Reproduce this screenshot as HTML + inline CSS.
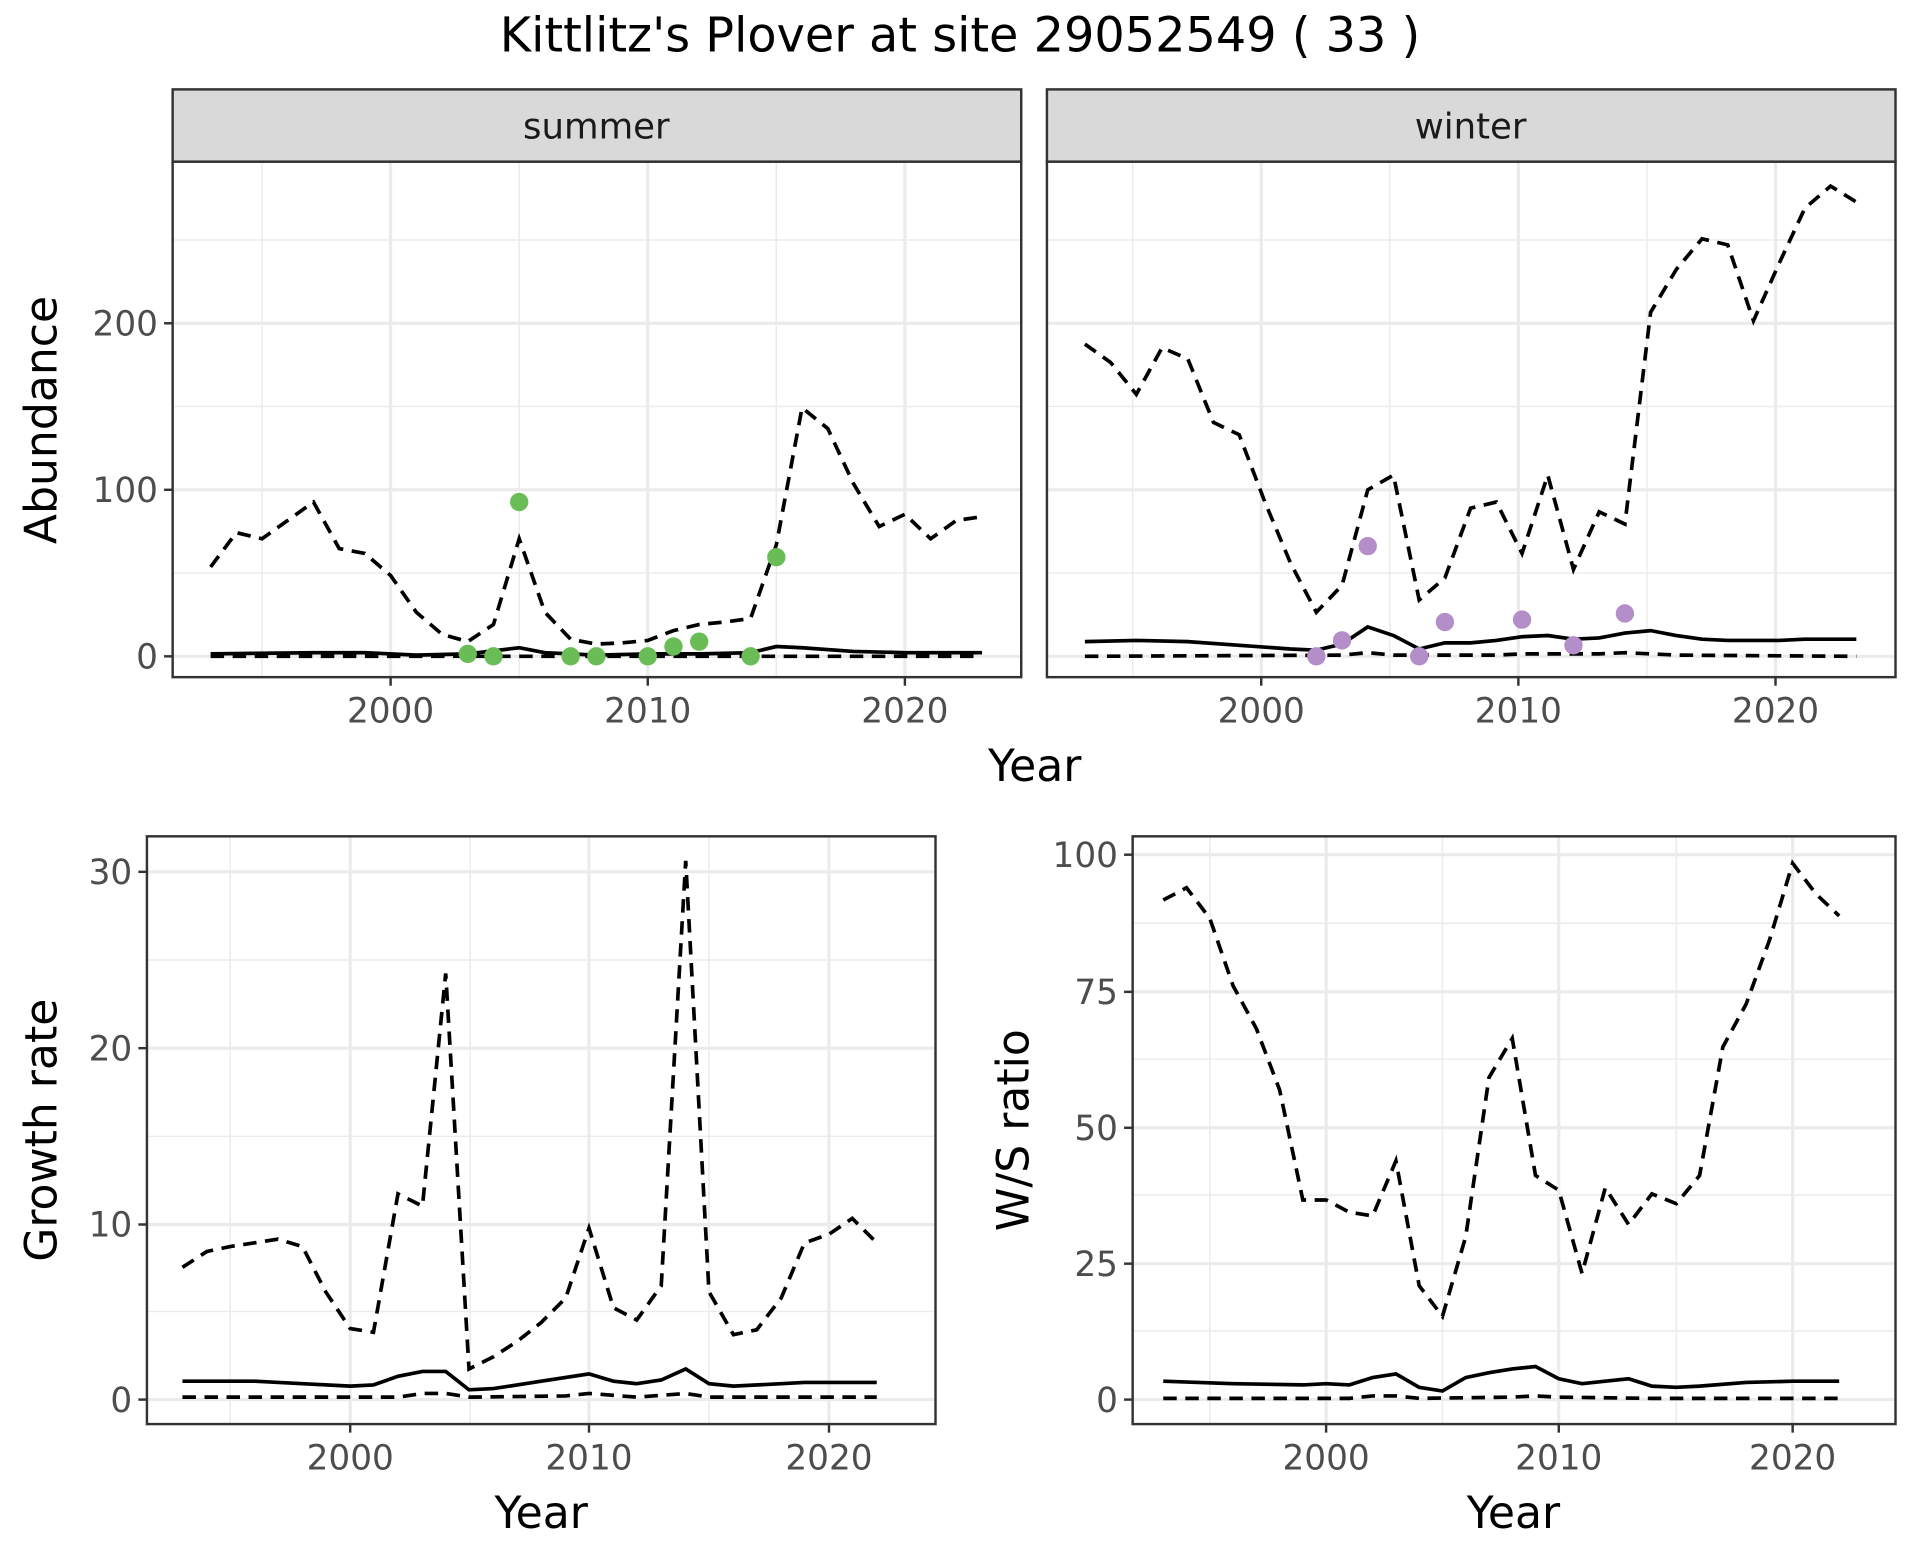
<!DOCTYPE html>
<html><head><meta charset="utf-8"><style>html,body{margin:0;padding:0;background:#fff}svg{display:block}text{font-family:"DejaVu Sans","Liberation Sans",sans-serif}</style></head>
<body>
<svg width="1920" height="1560" viewBox="0 0 1568 1274" xmlns="http://www.w3.org/2000/svg">
<rect width="1568" height="1274" fill="#fff"/>
<text x="784" y="42" font-size="39" text-anchor="middle" fill="#000">Kittlitz's Plover at site 29052549 ( 33 )</text>

<g>
<g stroke="#ebebeb" stroke-width="1.2">
<line x1="214" y1="132" x2="214" y2="553"/><line x1="424" y1="132" x2="424" y2="553"/><line x1="634" y1="132" x2="634" y2="553"/>
<line x1="141" y1="468" x2="834" y2="468"/><line x1="141" y1="332" x2="834" y2="332"/><line x1="141" y1="196" x2="834" y2="196"/>
</g>
<g stroke="#ebebeb" stroke-width="2.6">
<line x1="319" y1="132" x2="319" y2="553"/><line x1="529" y1="132" x2="529" y2="553"/><line x1="739" y1="132" x2="739" y2="553"/>
<line x1="141" y1="536" x2="834" y2="536"/><line x1="141" y1="400" x2="834" y2="400"/><line x1="141" y1="264" x2="834" y2="264"/>
</g>
<polyline fill="none" stroke="#000" stroke-width="3" stroke-dasharray="11,7" points="172,463 193,435 214,440 235,425 256,410 277,448 298,452 319,470 340,500 361,518 382,524 403,510 424,440 445,500 466,522 487,526 508,525 529,523 550,515 571,510 592,508 613,505 634,445 655,333 676,350 697,395 718,430 739,420 760,440 781,425 802,422"/>
<polyline fill="none" stroke="#000" stroke-width="3" points="172,534 256,533 298,533 340,535 382,534 424,529 445,533 487,535 529,534 571,534 613,533 634,528 655,529 697,532 739,533 802,533"/>
<polyline fill="none" stroke="#000" stroke-width="3" stroke-dasharray="11,7" points="172,536 802,536"/>
<g fill="#6abd56"><circle cx="382" cy="534" r="7.5"/><circle cx="403" cy="536" r="7.5"/><circle cx="424" cy="410" r="7.5"/><circle cx="466" cy="536" r="7.5"/><circle cx="487" cy="536" r="7.5"/><circle cx="529" cy="536" r="7.5"/><circle cx="550" cy="528" r="7.5"/><circle cx="571" cy="524" r="7.5"/><circle cx="613" cy="536" r="7.5"/><circle cx="634" cy="455" r="7.5"/></g>
<rect x="141" y="132" width="693" height="421" fill="none" stroke="#333" stroke-width="2"/>
<rect x="141" y="73" width="693" height="59" fill="#d9d9d9" stroke="#333" stroke-width="2"/>
<text x="487" y="113" font-size="29" text-anchor="middle" fill="#1a1a1a">summer</text>
</g>

<g>
<g stroke="#ebebeb" stroke-width="1.2">
<line x1="925" y1="132" x2="925" y2="553"/><line x1="1135" y1="132" x2="1135" y2="553"/><line x1="1345" y1="132" x2="1345" y2="553"/>
<line x1="855" y1="468" x2="1548" y2="468"/><line x1="855" y1="332" x2="1548" y2="332"/><line x1="855" y1="196" x2="1548" y2="196"/>
</g>
<g stroke="#ebebeb" stroke-width="2.6">
<line x1="1030" y1="132" x2="1030" y2="553"/><line x1="1240" y1="132" x2="1240" y2="553"/><line x1="1450" y1="132" x2="1450" y2="553"/>
<line x1="855" y1="536" x2="1548" y2="536"/><line x1="855" y1="400" x2="1548" y2="400"/><line x1="855" y1="264" x2="1548" y2="264"/>
</g>
<polyline fill="none" stroke="#000" stroke-width="3" stroke-dasharray="11,7" points="886,281 907,296 928,322 949,284 970,293 991,345 1012,355 1033,410 1054,460 1075,500 1096,478 1117,400 1138,388 1159,490 1180,472 1201,415 1222,410 1243,452 1264,388 1285,465 1306,418 1327,428 1348,255 1369,220 1390,195 1411,200 1432,262 1453,215 1474,170 1495,152 1516,165"/>
<polyline fill="none" stroke="#000" stroke-width="3" points="886,524 928,523 970,524 1012,527 1054,530 1075,531 1096,526 1117,512 1138,519 1159,530 1180,525 1201,525 1222,523 1243,520 1264,519 1285,522 1306,521 1327,517 1348,515 1369,519 1390,522 1411,523 1432,523 1453,523 1474,522 1516,522"/>
<polyline fill="none" stroke="#000" stroke-width="3" stroke-dasharray="11,7" points="886,536 1096,535 1117,533 1138,535 1222,535 1243,534 1306,534 1327,533 1348,534 1369,535 1516,536"/>
<g fill="#b48ec8"><circle cx="1075" cy="536" r="7.5"/><circle cx="1096" cy="523" r="7.5"/><circle cx="1117" cy="446" r="7.5"/><circle cx="1159" cy="536" r="7.5"/><circle cx="1180" cy="508" r="7.5"/><circle cx="1243" cy="506" r="7.5"/><circle cx="1285" cy="527" r="7.5"/><circle cx="1327" cy="501" r="7.5"/></g>
<rect x="855" y="132" width="693" height="421" fill="none" stroke="#333" stroke-width="2"/>
<rect x="855" y="73" width="693" height="59" fill="#d9d9d9" stroke="#333" stroke-width="2"/>
<text x="1201" y="113" font-size="29" text-anchor="middle" fill="#1a1a1a">winter</text>
</g>

<g stroke="#333" stroke-width="2">
<line x1="134" y1="536" x2="141" y2="536"/><line x1="134" y1="400" x2="141" y2="400"/><line x1="134" y1="264" x2="141" y2="264"/>
<line x1="319" y1="553" x2="319" y2="560"/><line x1="529" y1="553" x2="529" y2="560"/><line x1="739" y1="553" x2="739" y2="560"/>
<line x1="1030" y1="553" x2="1030" y2="560"/><line x1="1240" y1="553" x2="1240" y2="560"/><line x1="1450" y1="553" x2="1450" y2="560"/>
</g>
<g font-size="28" fill="#4d4d4d">
<text x="129" y="546" text-anchor="end">0</text><text x="129" y="410" text-anchor="end">100</text><text x="129" y="274" text-anchor="end">200</text>
<text x="319" y="590" text-anchor="middle">2000</text><text x="529" y="590" text-anchor="middle">2010</text><text x="739" y="590" text-anchor="middle">2020</text>
<text x="1030" y="590" text-anchor="middle">2000</text><text x="1240" y="590" text-anchor="middle">2010</text><text x="1450" y="590" text-anchor="middle">2020</text>
</g>
<text x="845" y="638" font-size="36" text-anchor="middle">Year</text>
<text transform="translate(46,343) rotate(-90)" font-size="36" text-anchor="middle">Abundance</text>

<g>
<g stroke="#ebebeb" stroke-width="1.2">
<line x1="188" y1="683" x2="188" y2="1163"/><line x1="384" y1="683" x2="384" y2="1163"/><line x1="579" y1="683" x2="579" y2="1163"/>
<line x1="120" y1="1071" x2="764" y2="1071"/><line x1="120" y1="928" x2="764" y2="928"/><line x1="120" y1="784" x2="764" y2="784"/>
</g>
<g stroke="#ebebeb" stroke-width="2.6">
<line x1="286" y1="683" x2="286" y2="1163"/><line x1="481" y1="683" x2="481" y2="1163"/><line x1="677" y1="683" x2="677" y2="1163"/>
<line x1="120" y1="1143" x2="764" y2="1143"/><line x1="120" y1="1000" x2="764" y2="1000"/><line x1="120" y1="856" x2="764" y2="856"/><line x1="120" y1="712" x2="764" y2="712"/>
</g>
<polyline fill="none" stroke="#000" stroke-width="3" stroke-dasharray="11,7" points="149,1035 169,1022 188,1018 208,1015 227,1012 247,1018 266,1055 286,1085 305,1088 325,975 345,985 364,795 383,1118 403,1108 423,1095 442,1080 462,1060 481,1003 501,1068 520,1078 540,1050 560,703 579,1055 599,1090 618,1086 638,1060 657,1015 677,1008 696,995 716,1015"/>
<polyline fill="none" stroke="#000" stroke-width="3" points="149,1128 208,1128 247,1130 286,1132 305,1131 325,1124 345,1120 364,1120 383,1135 403,1134 442,1128 481,1122 501,1128 520,1130 540,1127 560,1118 579,1130 599,1132 638,1130 657,1129 716,1129"/>
<polyline fill="none" stroke="#000" stroke-width="3" stroke-dasharray="11,7" points="149,1141 325,1141 345,1138 364,1138 383,1141 462,1140 481,1138 520,1141 560,1138 579,1141 716,1141"/>
<rect x="120" y="683" width="644" height="480" fill="none" stroke="#333" stroke-width="2"/>
<g stroke="#333" stroke-width="2">
<line x1="113" y1="1143" x2="120" y2="1143"/><line x1="113" y1="1000" x2="120" y2="1000"/><line x1="113" y1="856" x2="120" y2="856"/><line x1="113" y1="712" x2="120" y2="712"/>
<line x1="286" y1="1163" x2="286" y2="1170"/><line x1="481" y1="1163" x2="481" y2="1170"/><line x1="677" y1="1163" x2="677" y2="1170"/>
</g>
<g font-size="28" fill="#4d4d4d">
<text x="108" y="1153" text-anchor="end">0</text><text x="108" y="1010" text-anchor="end">10</text><text x="108" y="866" text-anchor="end">20</text><text x="108" y="722" text-anchor="end">30</text>
<text x="286" y="1200" text-anchor="middle">2000</text><text x="481" y="1200" text-anchor="middle">2010</text><text x="677" y="1200" text-anchor="middle">2020</text>
</g>
<text x="442" y="1248" font-size="36" text-anchor="middle">Year</text>
<text transform="translate(46,923) rotate(-90)" font-size="36" text-anchor="middle">Growth rate</text>
</g>

<g>
<g stroke="#ebebeb" stroke-width="1.2">
<line x1="988" y1="683" x2="988" y2="1163"/><line x1="1178" y1="683" x2="1178" y2="1163"/><line x1="1369" y1="683" x2="1369" y2="1163"/>
<line x1="925" y1="1087" x2="1548" y2="1087"/><line x1="925" y1="976" x2="1548" y2="976"/><line x1="925" y1="865" x2="1548" y2="865"/><line x1="925" y1="754" x2="1548" y2="754"/>
</g>
<g stroke="#ebebeb" stroke-width="2.6">
<line x1="1083" y1="683" x2="1083" y2="1163"/><line x1="1273" y1="683" x2="1273" y2="1163"/><line x1="1464" y1="683" x2="1464" y2="1163"/>
<line x1="925" y1="1143" x2="1548" y2="1143"/><line x1="925" y1="1032" x2="1548" y2="1032"/><line x1="925" y1="921" x2="1548" y2="921"/><line x1="925" y1="810" x2="1548" y2="810"/><line x1="925" y1="698" x2="1548" y2="698"/>
</g>
<polyline fill="none" stroke="#000" stroke-width="3" stroke-dasharray="11,7" points="950,735 969,725 988,750 1007,805 1026,840 1045,890 1064,980 1083,980 1102,990 1121,993 1140,948 1159,1050 1178,1075 1197,1010 1216,880 1235,848 1254,960 1273,972 1292,1040 1311,970 1330,1000 1349,975 1369,983 1388,960 1407,855 1426,820 1445,768 1464,705 1483,730 1502,748"/>
<polyline fill="none" stroke="#000" stroke-width="3" points="950,1128 1007,1130 1064,1131 1083,1130 1102,1131 1121,1125 1140,1122 1159,1133 1178,1136 1197,1125 1216,1121 1235,1118 1254,1116 1273,1126 1292,1130 1311,1128 1330,1126 1349,1132 1369,1133 1388,1132 1426,1129 1464,1128 1502,1128"/>
<polyline fill="none" stroke="#000" stroke-width="3" stroke-dasharray="11,7" points="950,1142 1102,1142 1121,1140 1140,1140 1159,1142 1235,1141 1254,1140 1273,1141 1349,1142 1502,1142"/>
<rect x="925" y="683" width="623" height="480" fill="none" stroke="#333" stroke-width="2"/>
<g stroke="#333" stroke-width="2">
<line x1="918" y1="1143" x2="925" y2="1143"/><line x1="918" y1="1032" x2="925" y2="1032"/><line x1="918" y1="921" x2="925" y2="921"/><line x1="918" y1="810" x2="925" y2="810"/><line x1="918" y1="698" x2="925" y2="698"/>
<line x1="1083" y1="1163" x2="1083" y2="1170"/><line x1="1273" y1="1163" x2="1273" y2="1170"/><line x1="1464" y1="1163" x2="1464" y2="1170"/>
</g>
<g font-size="28" fill="#4d4d4d">
<text x="913" y="1153" text-anchor="end">0</text><text x="913" y="1042" text-anchor="end">25</text><text x="913" y="931" text-anchor="end">50</text><text x="913" y="820" text-anchor="end">75</text><text x="913" y="708" text-anchor="end">100</text>
<text x="1083" y="1200" text-anchor="middle">2000</text><text x="1273" y="1200" text-anchor="middle">2010</text><text x="1464" y="1200" text-anchor="middle">2020</text>
</g>
<text x="1236" y="1248" font-size="36" text-anchor="middle">Year</text>
<text transform="translate(840,923) rotate(-90)" font-size="36" text-anchor="middle">W/S ratio</text>
</g>
</svg>
</body></html>
